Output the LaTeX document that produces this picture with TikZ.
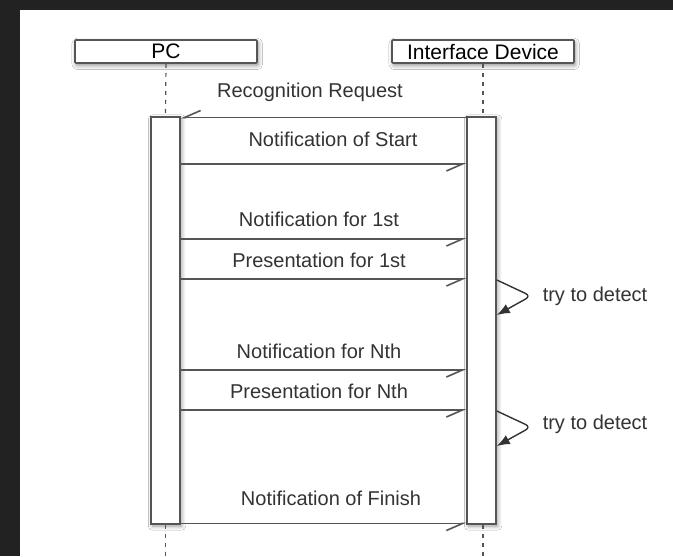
\documentclass[tikz,border=0pt]{standalone}
\usepackage{fontspec}
\setmainfont{Liberation Sans}
\usetikzlibrary{arrows.meta,shadows.blur}
\definecolor{bgdark}{HTML}{222222}
\definecolor{linegray}{HTML}{555555}
\definecolor{textgray}{HTML}{333333}
\tikzset{
  header/.style={draw=linegray,line width=0.8pt,fill=white,rounded corners=0.5pt,
    minimum width=91pt,minimum height=11.5pt,inner sep=0pt,
    blur shadow={shadow xshift=0.6pt,shadow yshift=-1.2pt,shadow blur steps=6,shadow opacity=45},
    font=\fontsize{10.5}{12}\selectfont,text=black},
  actbar/.style={draw=linegray,line width=0.8pt,fill=white,
    minimum width=14.5pt,minimum height=203.5pt,inner sep=0pt,
    blur shadow={shadow xshift=0.8pt,shadow yshift=-1pt,shadow blur steps=6,shadow opacity=40}},
  lifeline/.style={linegray,line width=0.6pt,dash pattern=on 2pt off 2.5pt},
  msg/.style={linegray,line width=0.8pt,-{Straight Barb[right,length=8pt,width=7pt]}},
  selfmsg/.style={black!80,line width=0.7pt,rounded corners=3pt,-{Latex[length=6.5pt,width=5pt]}},
  lbl/.style={font=\fontsize{10}{12}\selectfont,text=textgray,inner sep=1pt}
}
\begin{document}
\begin{tikzpicture}[x=0.5pt,y=-0.5pt]
    \useasboundingbox (0,0) rectangle (673,556);
    \fill[bgdark] (0,0) rectangle (673,556);
    \fill[white] (20,10) rectangle (673,556);

    % participants
    \node[header] (pc) at (166,51.5) {PC};
    \node[header] (dev) at (483,51.5) {Interface Device};

    % activations
    \node[actbar] (pcbar) at (165.5,320.5) {};
    \node[actbar] (devbar) at (481.5,320.5) {};

    \coordinate (bottom) at (0,556);
    \draw[lifeline] (pc.south) -- (pcbar.north);
    \draw[lifeline] (dev.south) -- (dev.south |- pcbar.north);
    \draw[lifeline] (pcbar.south) -- (pcbar.south |- bottom);
    \draw[lifeline] (dev.south |- devbar.south) -- (dev.south |- bottom);

    % message heights
    \coordinate (m0) at (0,117.5);
    \coordinate (m1) at (0,164);
    \coordinate (m2) at (0,239);
    \coordinate (m3) at (0,279);
    \coordinate (m4) at (0,370);
    \coordinate (m5) at (0,410);
    \coordinate (m6) at (0,523.5);

    \draw[msg] (devbar.west |- m0) -- (pcbar.east |- m0);
    \draw[msg] (pcbar.east |- m1) -- (devbar.west |- m1);
    \draw[msg] (pcbar.east |- m2) -- (devbar.west |- m2);
    \draw[msg] (pcbar.east |- m3) -- (devbar.west |- m3);
    \draw[msg] (pcbar.east |- m4) -- (devbar.west |- m4);
    \draw[msg] (pcbar.east |- m5) -- (devbar.west |- m5);
    \draw[msg] (pcbar.east |- m6) -- (devbar.west |- m6);

    \node[lbl] (req) at (310,92) {Recognition Request};
    \node[lbl] (start) at (333,139) {Notification of Start};
    \node[lbl] (n1) at (319,219) {Notification for 1st};
    \node[lbl] (p1) at (319,260) {Presentation for 1st};
    \node[lbl] (nn) at (319,351) {Notification for Nth};
    \node[lbl] (pn) at (319,391) {Presentation for Nth};
    \node[lbl] (fin) at (331,498) {Notification of Finish};

    % self calls
    \coordinate (d1a) at (0,280);
    \coordinate (d1b) at (0,315);
    \coordinate (d2a) at (0,411);
    \coordinate (d2b) at (0,446);
    \draw[selfmsg] (devbar.east |- d1a) -- (531,296) -- (devbar.east |- d1b);
    \draw[selfmsg] (devbar.east |- d2a) -- (531,427) -- (devbar.east |- d2b);
    \node[lbl] (try1) at (595,296) {try to detect};
    \node[lbl] (try2) at (595,424) {try to detect};

\end{tikzpicture}
\end{document}
